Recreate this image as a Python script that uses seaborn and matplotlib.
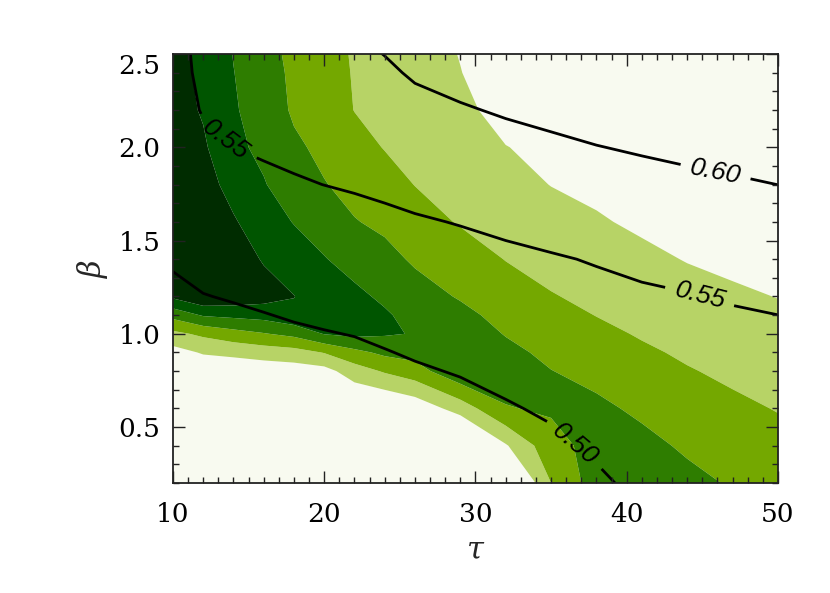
import matplotlib
matplotlib.use("Agg")
import matplotlib.pyplot as plt
import numpy as np
import seaborn as sns
from matplotlib.ticker import MultipleLocator

sns.set_theme(style="white")
plt.rcParams["font.family"] = ["DejaVu Serif"]
plt.rcParams["mathtext.fontset"] = "dejavuserif"

# grid
tau = [10, 12, 14, 16, 18, 20, 22, 24, 26, 29, 32, 35, 38, 41, 44, 47, 50]
beta = [0.2, 0.4, 0.6, 0.8, 0.9, 1.0, 1.1, 1.2, 1.4, 1.6, 1.8, 2.0, 2.2, 2.4, 2.6]

# filled field (band index), one list per tau column, bottom -> top in beta
band_by_tau = [
    [-3.0, -2.2, -1.4, -0.5, 0.1, 1.26, 2.83, 4.7, 5.2, 5.2, 5.1, 5.0, 4.95, 4.85, 4.8],
    [-2.6, -1.9, -1.1, -0.3, 0.6, 1.7, 3.6, 5.4, 5.3, 5.1, 4.9, 4.65, 4.4, 4.3, 4.15],
    [-2.4, -1.7, -0.9, -0.2, 0.75, 2.12, 3.75, 5.2, 5.0, 4.6, 4.15, 3.67, 3.58, 3.52, 3.42],
    [-2.2, -1.5, -0.8, -0.1, 0.95, 2.44, 3.88, 4.9, 4.42, 3.95, 3.55, 3.33, 3.15, 2.96, 2.78],
    [-2.0, -1.3, -0.7, 0.0, 1.1, 2.78, 4.3, 4.52, 3.97, 3.46, 3.08, 2.69, 2.35, 2.3, 2.22],
    [-1.8, -1.2, -0.6, 0.15, 1.55, 3.55, 3.95, 4.0, 3.55, 3.05, 2.55, 2.25, 2.0, 1.88, 1.78],
    [-1.6, -1.1, -0.7, 1.02, 2.23, 3.75, 3.85, 3.72, 3.14, 2.55, 2.18, 1.83, 1.48, 1.44, 1.4],
    [-1.4, -1.0, -0.6, 1.61, 2.72, 3.6, 3.62, 3.33, 2.79, 2.3, 1.87, 1.46, 1.3, 1.2, 1.12],
    [-1.5, -0.9, -0.2, 2.08, 2.87, 3.45, 3.17, 2.9, 2.37, 1.92, 1.48, 1.25, 1.1, 0.95, 0.83],
    [-2.2, -1.5, 0.95, 3.3, 3.2, 3.05, 2.75, 2.42, 2.0, 1.42, 1.2, 0.98, 0.7, 0.52, 0.42],
    [-1.4, 0.4, 2.45, 2.9, 2.75, 2.45, 2.2, 2.0, 1.47, 1.15, 0.82, 0.52, 0.2, 0.05, -0.1],
    [1.5, 2.15, 2.62, 2.52, 2.28, 2.05, 1.8, 1.55, 1.2, 0.85, 0.48, 0.3, 0.1, -0.05, -0.2],
    [3.0, 2.85, 2.7, 2.21, 1.97, 1.72, 1.48, 1.31, 0.95, 0.59, 0.3, 0.15, 0.0, -0.15, -0.3],
    [3.0, 2.77, 2.32, 1.86, 1.64, 1.42, 1.24, 1.06, 0.7, 0.35, 0.15, 0.0, -0.15, -0.3, -0.45],
    [2.76, 2.36, 1.96, 1.56, 1.37, 1.19, 1.01, 0.83, 0.46, 0.2, 0.0, -0.15, -0.3, -0.45, -0.6],
    [2.41, 2.04, 1.68, 1.33, 1.16, 0.99, 0.81, 0.64, 0.3, 0.05, -0.1, -0.25, -0.4, -0.55, -0.7],
    [2.11, 1.78, 1.46, 1.13, 0.97, 0.81, 0.65, 0.48, 0.16, -0.1, -0.25, -0.4, -0.55, -0.7, -0.85],
]

# contoured quantity, same layout
ratio_by_tau = [
    [0.4556, 0.4634, 0.4713, 0.4791, 0.4830, 0.4869, 0.4909, 0.4948, 0.5026, 0.5105, 0.5183, 0.5261, 0.5340, 0.5360, 0.5380],
    [0.4458, 0.4565, 0.4671, 0.4778, 0.4831, 0.4884, 0.4938, 0.4991, 0.5098, 0.5204, 0.5311, 0.5417, 0.5524, 0.5580, 0.5610],
    [0.4419, 0.4539, 0.4659, 0.4779, 0.4840, 0.4900, 0.4960, 0.5020, 0.5140, 0.5260, 0.5380, 0.5501, 0.5545, 0.5590, 0.5635],
    [0.4410, 0.4539, 0.4668, 0.4796, 0.4861, 0.4925, 0.4990, 0.5054, 0.5183, 0.5312, 0.5441, 0.5534, 0.5596, 0.5659, 0.5722],
    [0.4446, 0.4574, 0.4703, 0.4831, 0.4895, 0.4960, 0.5024, 0.5088, 0.5216, 0.5345, 0.5473, 0.5565, 0.5647, 0.5729, 0.5811],
    [0.4470, 0.4599, 0.4728, 0.4857, 0.4922, 0.4986, 0.5051, 0.5116, 0.5245, 0.5374, 0.5502, 0.5602, 0.5701, 0.5800, 0.5900],
    [0.4487, 0.4618, 0.4749, 0.4880, 0.4945, 0.5010, 0.5076, 0.5141, 0.5272, 0.5403, 0.5530, 0.5644, 0.5758, 0.5873, 0.5987],
    [0.4537, 0.4666, 0.4794, 0.4922, 0.4987, 0.5051, 0.5115, 0.5180, 0.5307, 0.5436, 0.5563, 0.5690, 0.5816, 0.5943, 0.6070],
    [0.4591, 0.4716, 0.4841, 0.4967, 0.5029, 0.5092, 0.5155, 0.5217, 0.5343, 0.5469, 0.5608, 0.5752, 0.5897, 0.6041, 0.6186],
    [0.4651, 0.4774, 0.4897, 0.5020, 0.5081, 0.5142, 0.5204, 0.5265, 0.5388, 0.5514, 0.5665, 0.5817, 0.5969, 0.6121, 0.6272],
    [0.4741, 0.4856, 0.4972, 0.5087, 0.5145, 0.5203, 0.5261, 0.5318, 0.5434, 0.5566, 0.5723, 0.5880, 0.6036, 0.6192, 0.6349],
    [0.4829, 0.4937, 0.5044, 0.5152, 0.5205, 0.5259, 0.5313, 0.5367, 0.5474, 0.5620, 0.5777, 0.5935, 0.6092, 0.6249, 0.6407],
    [0.4951, 0.5045, 0.5138, 0.5231, 0.5278, 0.5325, 0.5372, 0.5418, 0.5520, 0.5677, 0.5834, 0.5991, 0.6148, 0.6305, 0.6462],
    [0.5071, 0.5148, 0.5225, 0.5303, 0.5341, 0.5380, 0.5419, 0.5457, 0.5569, 0.5725, 0.5880, 0.6036, 0.6191, 0.6347, 0.6502],
    [0.5135, 0.5205, 0.5275, 0.5345, 0.5380, 0.5415, 0.5450, 0.5485, 0.5619, 0.5771, 0.5924, 0.6076, 0.6229, 0.6381, 0.6534],
    [0.5180, 0.5246, 0.5312, 0.5378, 0.5411, 0.5444, 0.5477, 0.5521, 0.5668, 0.5815, 0.5962, 0.6109, 0.6256, 0.6403, 0.6550],
    [0.5221, 0.5283, 0.5345, 0.5407, 0.5438, 0.5469, 0.5499, 0.5572, 0.5715, 0.5858, 0.6001, 0.6145, 0.6288, 0.6431, 0.6574],
]

band_levels = [-10, 0.5, 1.5, 2.5, 3.5, 4.5, 10]
band_colors = ["#f8faf0", "#b7d366", "#74a800", "#2e7d00", "#005500", "#002c00"]
line_levels = [0.50, 0.55, 0.60]
x_ticks = [10, 20, 30, 40, 50]
y_ticks = [0.5, 1.0, 1.5, 2.0, 2.5]

# where the inline labels sit
label_spots = [(13.3, 2.02), (36.7, 0.42), (44.9, 1.23), (45.9, 1.88)]

T, B = np.meshgrid(tau, beta)
band = np.array(band_by_tau).T
ratio = np.array(ratio_by_tau).T

fig, ax = plt.subplots(figsize=(8.3, 5.93), dpi=100)
fig.subplots_adjust(left=0.2084, right=0.9373, bottom=0.1855, top=0.9089)
ax.set_axisbelow(False)  # seaborn puts the axis under the fills; ticks must show

ax.contourf(T, B, band, levels=band_levels, colors=sns.color_palette(band_colors), antialiased=True)
cs = ax.contour(T, B, ratio, levels=line_levels, colors="black", linewidths=2.0)
with plt.rc_context({"font.family": ["Liberation Sans"], "font.style": "italic"}):
    ax.clabel(cs, fmt="%.2f", fontsize=19, inline=True, inline_spacing=10, manual=label_spots)

ax.set_xlim(10, 50)
ax.set_ylim(0.2, 2.5)
ax.set_xticks(x_ticks)
ax.set_xticklabels([str(v) for v in x_ticks])
ax.set_yticks(y_ticks)
ylabs = ax.set_yticklabels([f"{v:.1f}" for v in y_ticks])
ylabs[-1].set_verticalalignment("top")
ax.xaxis.set_minor_locator(MultipleLocator(1))
ax.yaxis.set_minor_locator(MultipleLocator(0.1))
ax.tick_params(which="both", direction="in", bottom=True, left=True, top=True, right=True,
               color="#222222", width=1)
ax.tick_params(which="major", length=8.6, labelsize=19, labelcolor="black")
ax.tick_params(which="minor", length=4.3)
ax.tick_params(axis="x", which="major", pad=14)
ax.tick_params(axis="y", which="major", pad=9)
for sp in ax.spines.values():
    sp.set_linewidth(1.3)
    sp.set_color("#222222")
    sp.set_zorder(5)

ax.set_xlabel(r"$\tau$", fontsize=22, labelpad=6)
ax.set_ylabel(r"$\beta$", fontsize=22, labelpad=6)

fig.savefig("out.png", dpi=100)
